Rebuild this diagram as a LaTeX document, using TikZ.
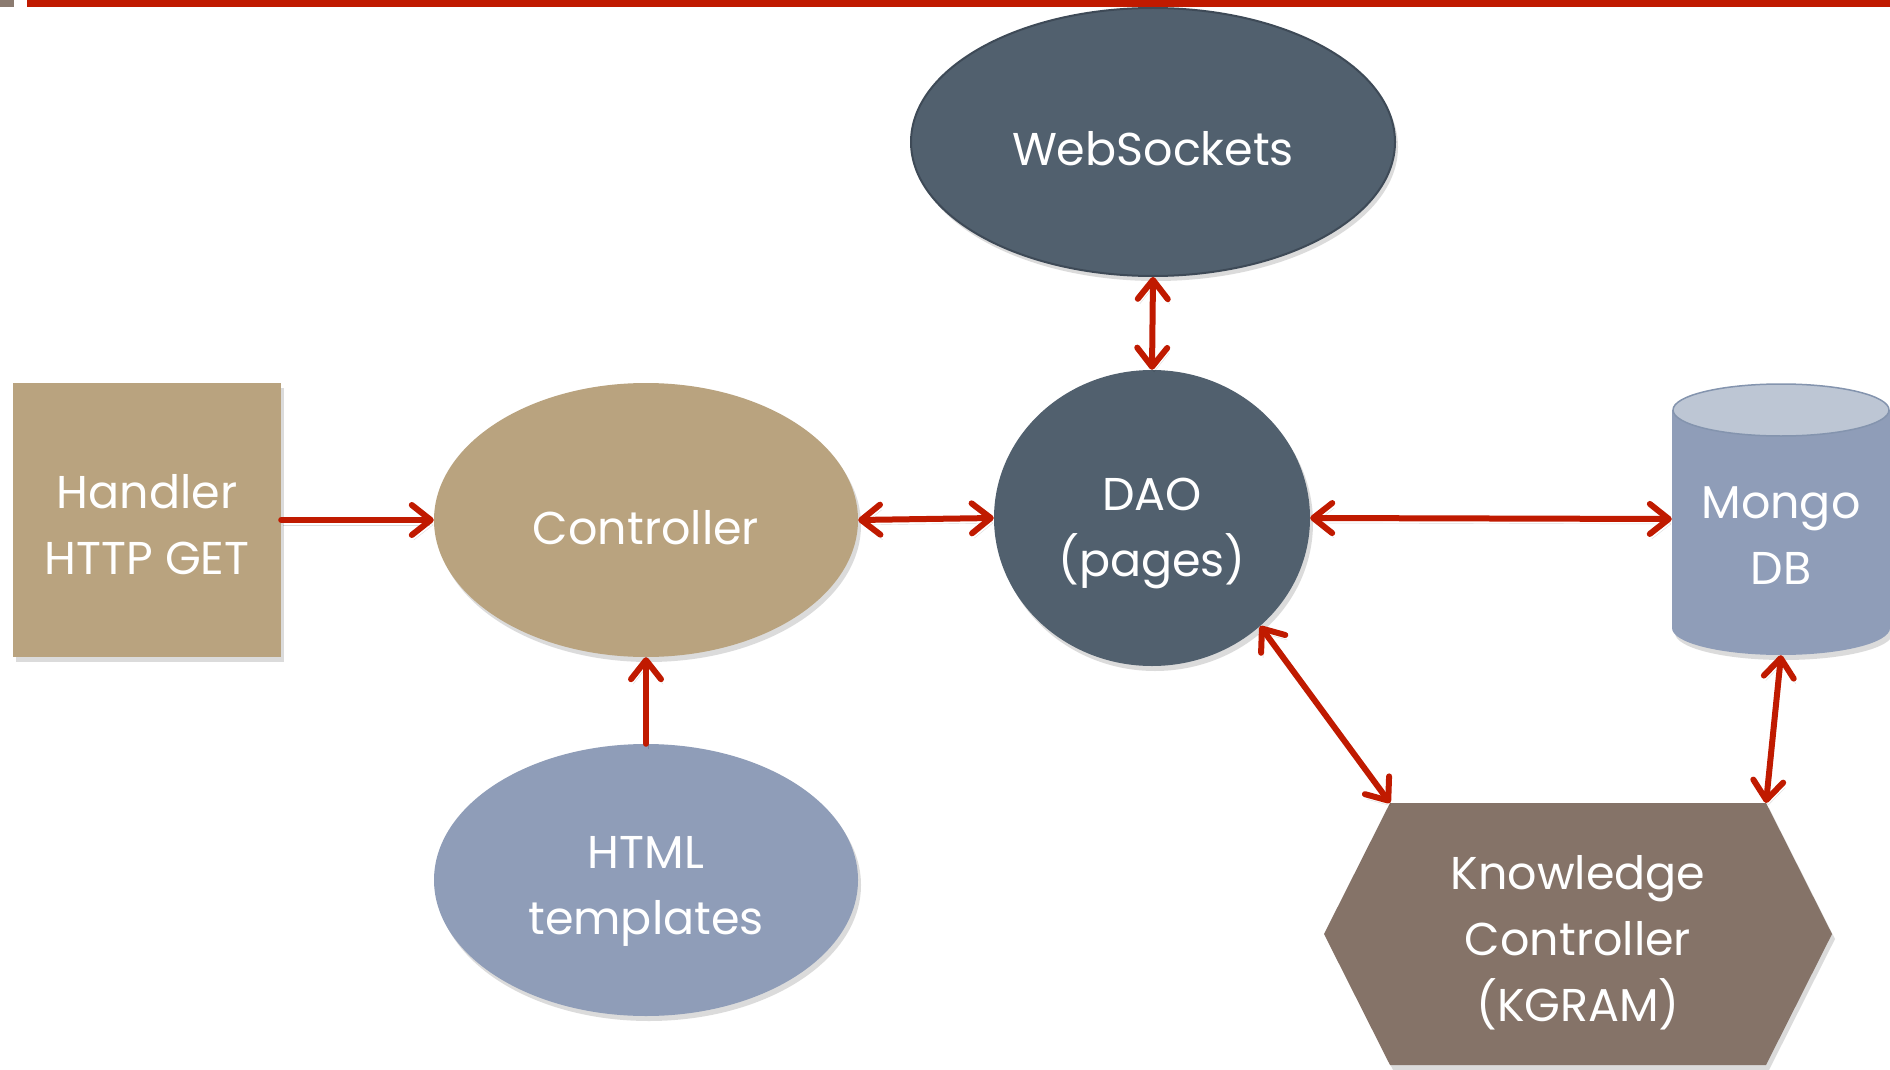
\documentclass[tikz,border=0pt]{standalone}
\usepackage{fontspec}
\setmainfont{Poppins}
\usetikzlibrary{shapes.geometric,arrows.meta,shadows}
\definecolor{tanfill}{HTML}{B9A37F}
\definecolor{bluegray}{HTML}{8F9DB8}
\definecolor{slate}{HTML}{51606E}
\definecolor{slateline}{HTML}{3E4A57}
\definecolor{brownish}{HTML}{857368}
\definecolor{arrowred}{HTML}{C01A00}
\definecolor{mongotop}{HTML}{BDC6D4}
\definecolor{mongoline}{HTML}{8494AE}
\definecolor{bargray}{HTML}{8B7B70}
\begin{document}
\begin{tikzpicture}[x=1pt,y=-1pt,
  lbl/.style={text=white, font=\fontsize{46}{66}\selectfont, align=center, inner sep=0pt},
  shad/.style={drop shadow={opacity=0.28, shadow xshift=3pt, shadow yshift=-5pt}},
  oval/.style={ellipse, inner sep=0pt, draw=none, shad},
  link/.style={draw=arrowred, line width=6pt, line cap=round,
    >={Straight Barb[length=19pt, width=30pt, line width=6pt, round]},
    preaction={draw=black, draw opacity=0.14, transform canvas={xshift=2pt, yshift=-5pt}}},
]
\useasboundingbox (0,0) rectangle (1890,1070);
\fill[white] (0,0) rectangle (1890,1070);

% top bar
\fill[arrowred] (27,0) rectangle (1890,7);
\fill[bargray] (0,0) rectangle (14,7);

% shapes
\node[rectangle, fill=tanfill, shad, minimum width=268pt, minimum height=274pt, inner sep=0pt] (handler) at (147,520) {};
\node[oval, fill=tanfill, minimum width=424pt, minimum height=274pt] (ctrl) at (646,520) {};
\node[oval, fill=bluegray, minimum width=424pt, minimum height=272pt] (html) at (646,880) {};
\node[oval, fill=slate, draw=slateline, line width=2pt, minimum width=484pt, minimum height=268pt] (ws) at (1153,142) {};
\node[oval, fill=slate, minimum width=316pt, minimum height=296pt] (dao) at (1152,518) {};

% Mongo DB cylinder
\node[rectangle, inner sep=0pt, minimum width=218pt, minimum height=272pt] (mongo) at (1781,519) {};
\fill[bluegray, drop shadow={opacity=0.28, shadow xshift=3pt, shadow yshift=-5pt}]
  (1672,410) -- (1672,628) arc[start angle=180, end angle=360, x radius=109pt, y radius=27pt] -- (1890,410) -- cycle;
\draw[fill=mongotop, draw=mongoline, line width=1.5pt] (1781,410) ellipse[x radius=108pt, y radius=26pt];

% Knowledge controller hexagon
\coordinate (kctl) at (1390,803);
\coordinate (kctr) at (1766,803);
\coordinate (kcr) at (1832,934);
\coordinate (kcbr) at (1766,1065);
\coordinate (kcbl) at (1390,1065);
\coordinate (kcl) at (1324,934);
\fill[brownish, drop shadow={opacity=0.28, shadow xshift=3pt, shadow yshift=-5pt}]
  (kctl) -- (kctr) -- (kcr) -- (kcbr) -- (kcbl) -- (kcl) -- cycle;

% texts (anchor=base is the baseline of the last line)
\node[lbl, anchor=base] (handlerT) at (147,574) {Handler\\HTTP GET};
\node[lbl, anchor=base] (ctrlT) at (646,544) {Controller};
\node[lbl, anchor=base] (htmlT) at (646,934) {HTML\\templates};
\node[lbl, anchor=base] (wsT) at (1153,165) {WebSockets};
\node[lbl, anchor=base] (daoT) at (1152,576) {DAO\\(pages)};
\node[lbl, anchor=base] (mongoT) at (1781,584) {Mongo\\DB};
\node[lbl, anchor=base] (kcT) at (1578,1021) {Knowledge\\Controller\\(KGRAM)};

% connectors
\draw[link, ->] (handler.east) -- (ctrl.west);
\draw[link, <->] (ctrl.east) -- (dao.west);
\draw[link, <->] (ws.south) -- (dao.north);
\draw[link, ->] (html.north) -- (ctrl.south);
\draw[link, <->] (dao.east) -- (mongo.west);
\draw[link, <->] (dao.-45) -- (kctl);
\draw[link, <->] (mongo.south) -- (kctr);
\end{tikzpicture}
\end{document}
